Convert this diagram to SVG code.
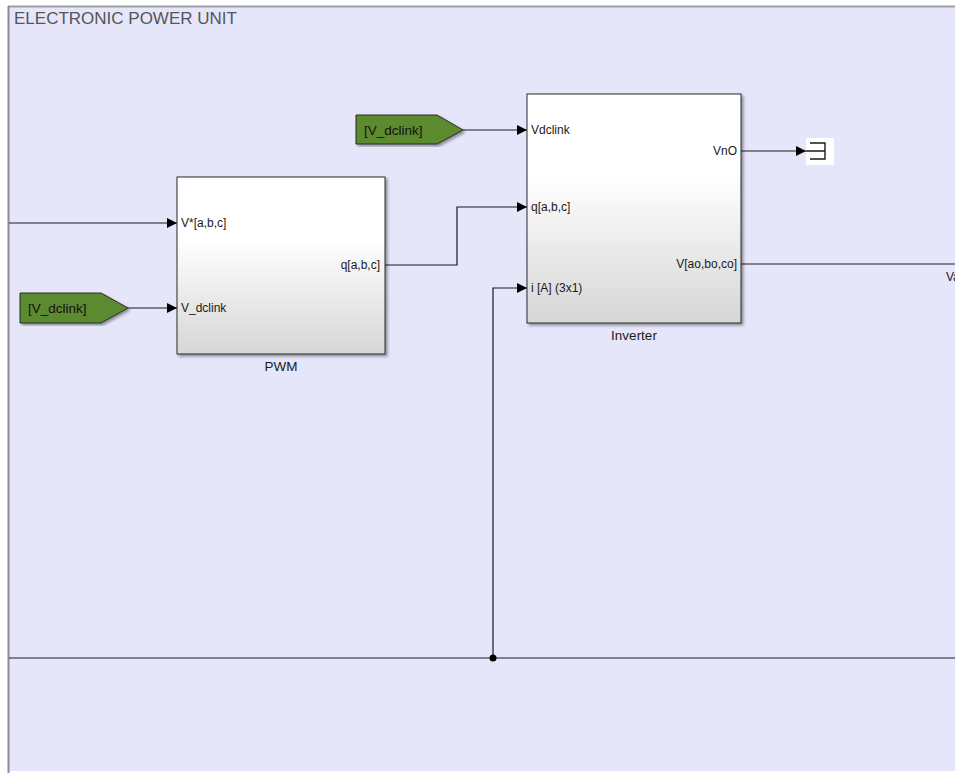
<svg xmlns="http://www.w3.org/2000/svg" width="955" height="773" viewBox="0 0 955 773">
<defs>
<linearGradient id="blk" x1="0" y1="0" x2="0" y2="1">
<stop offset="0" stop-color="#ffffff"/>
<stop offset="0.35" stop-color="#ffffff"/>
<stop offset="1" stop-color="#d6d6d6"/>
</linearGradient>
<filter id="sh" x="-5%" y="-5%" width="115%" height="115%">
<feGaussianBlur in="SourceAlpha" stdDeviation="1.5"/>
<feOffset dx="2" dy="2" result="b"/>
<feComponentTransfer><feFuncA type="linear" slope="0.4"/></feComponentTransfer>
<feMerge><feMergeNode/><feMergeNode in="SourceGraphic"/></feMerge>
</filter>
<marker id="arr" viewBox="0 0 10 10" refX="10" refY="5" markerWidth="10" markerHeight="10" markerUnits="userSpaceOnUse" orient="auto">
<path d="M0,0 L10,5 L0,10 z" fill="#000"/>
</marker>
</defs>
<style>
.blk{fill:url(#blk);stroke:#2b2b2b;stroke-width:1}
.tag{fill:#5b8a2e;stroke:#2b2b2b;stroke-width:1}
.port{font-family:"Liberation Sans",Arial,sans-serif;font-size:12px;fill:#1a1a1a}
.name{font-family:"Liberation Sans",Arial,sans-serif;font-size:13.5px;fill:#1a1a1a}
.tagt{font-family:"Liberation Sans",Arial,sans-serif;font-size:13.5px;fill:#111}
.w{fill:none;stroke:#1a1a1a;stroke-width:1.2}
</style>
<rect x="0" y="0" width="955" height="773" fill="#ffffff"/>
<rect x="8" y="6" width="947" height="765" fill="#e6e6fa"/>
<line x1="8" y1="6.5" x2="955" y2="6.5" stroke="#a0a0a8" stroke-width="2"/>
<line x1="8.5" y1="6" x2="8.5" y2="773" stroke="#8c8c94" stroke-width="2"/>
<text x="14" y="24" font-family="Liberation Sans, Arial, sans-serif" font-size="17" fill="#555">ELECTRONIC POWER UNIT</text>

<g id="connectors">
<polyline class="w" points="9,223 177,223" marker-end="url(#arr)"/>
<polyline class="w" points="128,308 177,308" marker-end="url(#arr)"/>
<polyline class="w" points="463,130 527,130" marker-end="url(#arr)"/>
<polyline class="w" points="385,265 457,265 457,207 527,207" marker-end="url(#arr)"/>
<polyline class="w" points="493,658 493,288 527,288" marker-end="url(#arr)"/>
<polyline class="w" points="741,151 806,151" marker-end="url(#arr)"/>
<polyline class="w" points="741,264 955,264"/>
<polyline class="w" points="9,658 955,658"/>
<circle cx="493" cy="658" r="3.5" fill="#000"/>
<text x="946" y="281" class="port">Va</text>
</g>

<g id="pwm">
<rect x="177" y="177" width="208" height="177" class="blk" filter="url(#sh)"/>
<text x="181" y="227" class="port">V*[a,b,c]</text>
<text x="181" y="312" class="port">V_dclink</text>
<text x="380" y="269" class="port" text-anchor="end">q[a,b,c]</text>
<text x="281" y="371" class="name" text-anchor="middle">PWM</text>
</g>

<g id="inverter">
<rect x="527" y="94" width="214" height="229" class="blk" filter="url(#sh)"/>
<text x="531" y="134" class="port">Vdclink</text>
<text x="531" y="211" class="port">q[a,b,c]</text>
<text x="531" y="292" class="port">i [A] (3x1)</text>
<text x="737" y="155" class="port" text-anchor="end">VnO</text>
<text x="737" y="268" class="port" text-anchor="end">V[ao,bo,co]</text>
<text x="634" y="340" class="name" text-anchor="middle">Inverter</text>
</g>

<g id="from_vdclink_1">
<path d="M356,115 L437,115 L463,130 L437,144 L356,144 Z" class="tag" filter="url(#sh)"/>
<text x="364" y="134.5" class="tagt">[V_dclink]</text>
</g>

<g id="from_vdclink_2">
<path d="M20,293 L101,293 L128,308 L101,323 L20,323 Z" class="tag" filter="url(#sh)"/>
<text x="28" y="312.5" class="tagt">[V_dclink]</text>
</g>

<g id="terminator">
<rect x="806" y="138" width="28" height="27" fill="#ffffff"/>
<path d="M810,143 L825,143 L825,159 L810,159 M806,151 L825,151" fill="none" stroke="#1a1a1a" stroke-width="1.4"/>
</g>
</svg>
